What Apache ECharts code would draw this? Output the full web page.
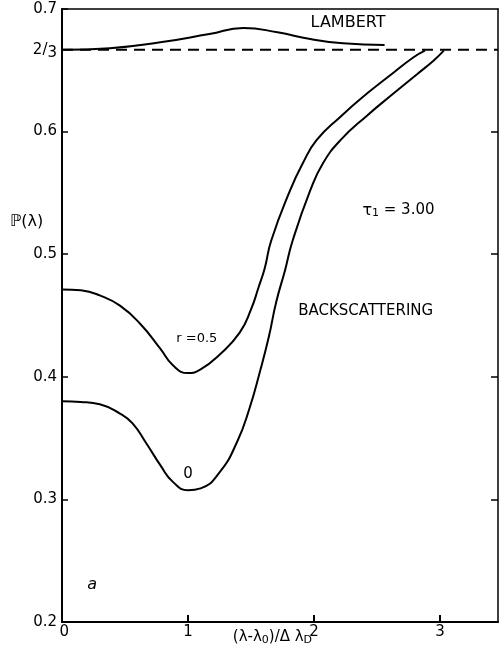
<!DOCTYPE html>
<html><head><meta charset="utf-8">
<script src="https://cdn.jsdelivr.net/npm/echarts@6/dist/echarts.min.js"></script>
<style>html,body{margin:0;padding:0;background:#fff}#c{width:500px;height:666px}</style>
</head><body><div id="c"></div>
<script>
// ---- data ----
const xTickValues = [0, 1, 2, 3];
const yTickValues = [0.2, 0.3, 0.4, 0.5, 0.6, 0.7];
const yLabelValues = [0.2, 0.3, 0.4, 0.5, 0.6, 2/3, 0.7];
const lambertLevel = 2/3;
const lambert = [[0,0.6667],[0.38,0.668],[0.78,0.6728],[1.17,0.6796],[1.44,0.6845],[1.71,0.681],[1.97,0.6755],[2.23,0.672],[2.56,0.6706]];
const backR05 = [[0,0.4713],[0.15,0.4705],[0.30,0.4664],[0.46,0.458],[0.62,0.4433],[0.78,0.423],[0.88,0.4094],[1.0,0.403],[1.1,0.406],[1.25,0.418],[1.41,0.436],[1.5,0.455],[1.56,0.473],[1.61,0.489],[1.66,0.511],[1.81,0.552],[1.91,0.574],[2.02,0.593],[2.21,0.6122],[2.42,0.631],[2.63,0.648],[2.79,0.6606],[2.88,0.666]];
const backR0 = [[0,0.380],[0.15,0.3795],[0.30,0.3776],[0.46,0.370],[0.56,0.362],[0.67,0.3456],[0.78,0.328],[0.88,0.3143],[1.0,0.3075],[1.1,0.309],[1.25,0.322],[1.39,0.347],[1.49,0.375],[1.57,0.404],[1.64,0.432],[1.70,0.461],[1.77,0.487],[1.83,0.511],[1.97,0.552],[2.07,0.574],[2.21,0.593],[2.42,0.613],[2.63,0.631],[2.82,0.647],[2.95,0.658],[3.03,0.666]];
const xMin = 0, xMax = 3.46, yMin = 0.2, yMax = 0.7;
// annotations in data coordinates
const notes = [
  {text:'LAMBERT', at:[2.27,0.689], size:16},
  {text:'{t|τ}{sub|1} = 3.00', at:[2.67,0.5357], size:15},
  {text:'BACKSCATTERING', at:[2.41,0.4534], size:15},
  {text:'r =0.5', at:[1.07,0.4314], size:13},
  {text:'0', at:[1.0,0.3206], size:15},
  {text:'{i|a}', at:[0.24,0.230], size:15},
  {text:'ℙ(λ)', at:[-0.28,0.526], size:16},
  {text:'(λ-λ{sub|0})/Δ λ{sub|D}', at:[1.67,0.1878], size:15}
];

const FONT = 'DejaVu Sans';
const chart = echarts.init(document.getElementById('c'));
const black = '#000';
chart.setOption({
  animation:false,
  backgroundColor:'#fff',
  grid:{left:62, right:2, top:9, bottom:44},
  xAxis:[
    {type:'value', min:xMin, max:xMax, interval:1, position:'bottom',
     axisLine:{onZero:false, lineStyle:{color:black, width:2}},
     axisTick:{inside:true, length:7, customValues:[1,2,3], lineStyle:{color:black, width:2}},
     axisLabel:{customValues:xTickValues, color:black, fontSize:15, fontFamily:FONT, margin:3,
       formatter:function(v){ return v === 0 ? ' 0' : String(v); }},
     splitLine:{show:false}},
    {type:'value', min:xMin, max:xMax, position:'top',
     axisLine:{show:true, onZero:false, lineStyle:{color:black, width:1.5}},
     axisTick:{show:false}, axisLabel:{show:false}, splitLine:{show:false}}
  ],
  yAxis:[
    {type:'value', min:yMin, max:yMax, interval:0.1, position:'left',
     axisLine:{show:true, onZero:false, lineStyle:{color:black, width:2}},
     axisTick:{show:true, inside:true, length:6, customValues:yTickValues, lineStyle:{color:black, width:1.5}},
     axisLabel:{customValues:yLabelValues, color:black, fontSize:15, fontFamily:FONT, margin:5,
       formatter:function(v){ if (Math.abs(v-2/3)<1e-6) return '2/{s|3}'; return v.toFixed(1); },
       rich:{s:{fontSize:15, fontFamily:FONT, color:black, padding:[7,0,0,0]}}},
     splitLine:{show:false}},
    {type:'value', min:yMin, max:yMax, interval:0.1, position:'right',
     axisLine:{show:true, onZero:false, lineStyle:{color:black, width:1.5}},
     axisTick:{show:true, inside:true, length:7, customValues:[0.3,0.4,0.5,0.6], lineStyle:{color:black, width:1.5}},
     axisLabel:{show:false}, splitLine:{show:false}}
  ],
  series:[
    {type:'line', data:[[xMin,lambertLevel],[xMax,lambertLevel]], symbol:'none',
     lineStyle:{color:black, width:2, type:[11,7]}},
    {type:'line', data:lambert, smooth:0.5, symbol:'none', lineStyle:{color:black, width:2}},
    {type:'line', data:backR05, smooth:0.5, symbol:'none', lineStyle:{color:black, width:2}},
    {type:'line', data:backR0, smooth:0.5, symbol:'none', lineStyle:{color:black, width:2}}
  ]
});

const richStyles = {
  sub:{fontSize:11, fontFamily:FONT, color:black, padding:[6,0,0,0]},
  t:{fontSize:16, fontFamily:FONT, color:black},
  i:{fontSize:16, fontFamily:FONT, fontStyle:'italic', color:black}
};
const elements = notes.map(function(n){
  const p = chart.convertToPixel({gridIndex:0}, n.at);
  return {type:'text', x:p[0], y:p[1],
    style:{text:n.text, fill:black, font:n.size+'px "'+FONT+'"', align:'center', verticalAlign:'middle', rich:richStyles}};
});
chart.setOption({graphic:{elements:elements}});
</script>
</body></html>
